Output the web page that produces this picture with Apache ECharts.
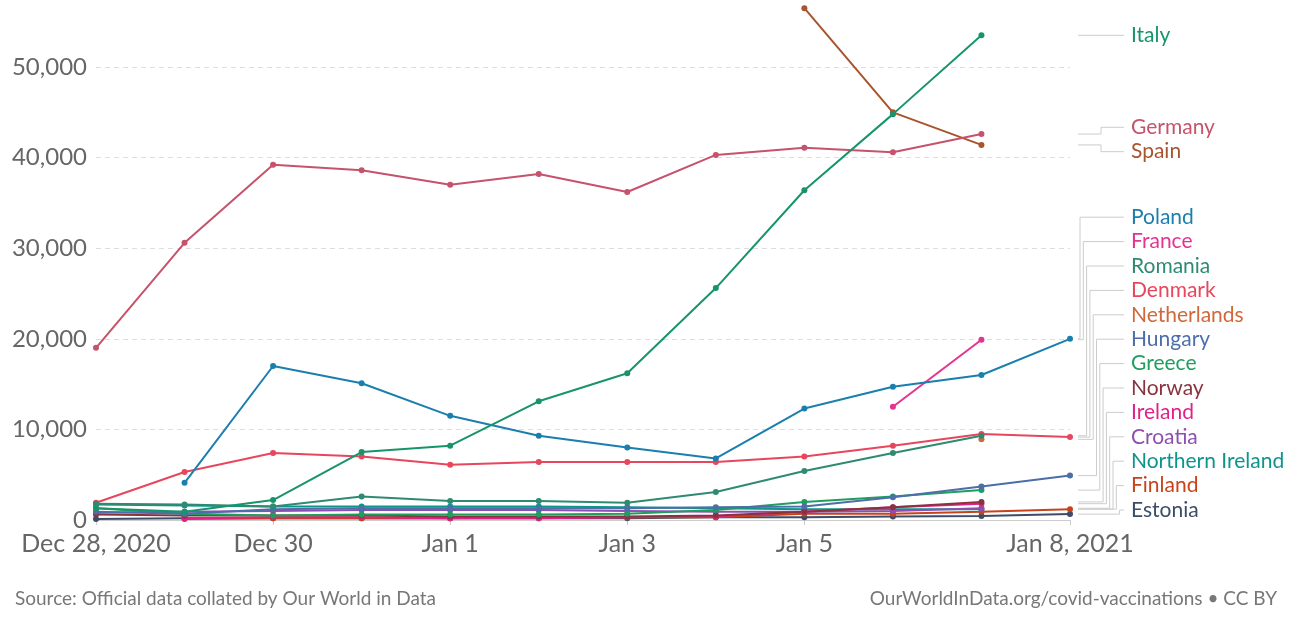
<!DOCTYPE html>
<html>
<head>
<meta charset="utf-8">
<script src="https://cdn.jsdelivr.net/npm/echarts@6/dist/echarts.min.js"></script>
<style>
html,body{margin:0;padding:0;background:#fff;}
#chart{width:1300px;height:620px;}
</style>
</head>
<body>
<div id="chart"></div>
<script>
// ---- data ----
const dates = ['2020-12-28','2020-12-29','2020-12-30','2020-12-31','2021-01-01','2021-01-02','2021-01-03','2021-01-04','2021-01-05','2021-01-06','2021-01-07','2021-01-08'];
const tickLabels = ['Dec 28, 2020','','Dec 30','','Jan 1','','Jan 3','','Jan 5','','','Jan 8, 2021'];
const yTicks = [0, 10000, 20000, 30000, 40000, 50000];

const italy       = [1300, 900, 2200, 7500, 8200, 13100, 16200, 25600, 36400, 44800, 53500, null];
const germany     = [19000, 30600, 39200, 38600, 37000, 38200, 36200, 40300, 41100, 40600, 42600, null];
const spain       = [null, null, null, null, null, null, null, null, 56500, 45000, 41400, null];
const poland      = [null, 4100, 17000, 15100, 11500, 9300, 8000, 6800, 12300, 14700, 16000, 20000];
const france      = [null, null, null, null, null, null, null, null, null, 12500, 19900, null];
const romania     = [1800, 1700, 1500, 2600, 2100, 2100, 1900, 3100, 5400, 7400, 9300, null];
const denmark     = [1900, 5300, 7400, 7000, 6100, 6400, 6400, 6400, 7000, 8200, 9500, 9150];
const netherlands = [null, null, null, null, null, null, null, null, null, null, 8900, null];
const hungary     = [900, 700, 1200, 1300, 1300, 1300, 1300, 1400, 1500, 2500, 3700, 4900];
const greece      = [1300, 700, 500, 600, 600, 600, 700, 1100, 2000, 2600, 3300, null];
const norway      = [600, 500, 500, 500, 400, 400, 400, 500, 900, 1400, 2000, null];
const ireland     = [null, 200, 300, 300, 200, 200, 300, 400, 900, 1400, 1800, null];
const croatia     = [800, 900, 1000, 1100, 1100, 1100, 1000, 900, 900, 1000, 1300, null];
const nireland    = [1700, 1600, 1500, 1500, 1500, 1500, 1400, 1300, 1200, 1200, 1200, null];
const finland     = [null, 100, 200, 200, 200, 300, 300, 300, 700, 700, 900, 1200];
const estonia     = [100, 200, 200, 200, 200, 200, 200, 300, 300, 400, 450, 650];

const countries = ['Italy','Germany','Spain','Poland','France','Romania','Denmark','Netherlands','Hungary','Greece','Norway','Ireland','Croatia','Northern Ireland','Finland','Estonia'];
const seriesValues = [italy, germany, spain, poland, france, romania, denmark, netherlands, hungary, greece, norway, ireland, croatia, nireland, finland, estonia];
const colors = ['#18946c','#c6526b','#a8552d','#1b7fae','#e3348f','#2f8a72','#e8465c','#d0683a','#4d6ea8','#1f9e5e','#8a3340','#e0218a','#8e4fb0','#0d958c','#c8431b','#3b4d68'];

// ---- chart ----
const FONT = 'Lato, "Noto Sans", sans-serif';
const chart = echarts.init(document.getElementById('chart'), null, {renderer: 'canvas'});

const drawOrder = [15,14,13,12,11,10,9,8,7,6,5,4,3,2,1,0];
const series = drawOrder.map(k => ({
  name: countries[k],
  type: 'line',
  data: seriesValues[k],
  connectNulls: false,
  symbol: 'circle',
  symbolSize: 6,
  showSymbol: true,
  color: colors[k],
  lineStyle: {width: 2, color: colors[k]},
  itemStyle: {color: colors[k]},
  emphasis: {disabled: true},
  animation: false,
  z: 2
}));

const option = {
  animation: false,
  backgroundColor: '#fff',
  grid: {left: 96, right: 230, top: 3.6, bottom: 100, containLabel: false},
  xAxis: {
    type: 'category',
    data: dates,
    boundaryGap: false,
    axisLine: {show: true, lineStyle: {color: '#cccccc', width: 1}},
    axisTick: {show: true, length: 5, lineStyle: {color: '#cccccc'}, interval: (i) => tickLabels[i] !== ''},
    axisLabel: {
      interval: (i) => tickLabels[i] !== '',
      formatter: (v, i) => tickLabels[i],
      color: '#666666', fontSize: 25, fontFamily: FONT, margin: 11
    },
    splitLine: {show: false}
  },
  yAxis: {
    type: 'value',
    min: 0, max: 57000, interval: 10000,
    axisLine: {show: false},
    axisTick: {show: false},
    axisLabel: {
      formatter: (v) => yTicks.indexOf(v) >= 0 ? v.toLocaleString('en-US') : '',
      showMaxLabel: false,
      color: '#666666', fontSize: 24, fontFamily: FONT, margin: 9
    },
    splitLine: {show: true, showMaxLine: false, showMinLine: true, lineStyle: {color: '#dddddd', type: [5, 4], width: 1}}
  },
  title: [
    {text: 'Source: Official data collated by Our World in Data', left: 10, top: 584,
     textStyle: {fontSize: 19, fontWeight: 'normal', color: '#777777', fontFamily: FONT}},
    {text: 'OurWorldInData.org/covid-vaccinations \u2022 CC BY', right: 18, top: 584,
     textStyle: {fontSize: 19, fontWeight: 'normal', color: '#777777', fontFamily: FONT}}
  ],
  series: series
};
chart.setOption(option);

// ---- right-side labels with connectors ----
function lastPoint(arr) {
  for (let i = arr.length - 1; i >= 0; i--) if (arr[i] != null) return [i, arr[i]];
  return null;
}
const items = countries.map((name, k) => {
  const lp = lastPoint(seriesValues[k]);
  const p = chart.convertToPixel({gridIndex: 0}, [dates[lp[0]], lp[1]]);
  return {name, color: colors[k], py: p[1], idx: k};
});
items.sort((a, b) => a.py - b.py || a.idx - b.idx);

const H = 24.4, minY = 20, maxY = 510;
let groups = items.map((it, k) => ({members: [k]}));
function placeGroup(g) {
  const n = g.members.length;
  let mean = 0;
  g.members.forEach(m => mean += items[m].py);
  mean /= n;
  let top = mean - (n - 1) * H / 2;
  top = Math.max(minY, Math.min(top, maxY - (n - 1) * H));
  g.top = top;
}
let changed = true;
while (changed) {
  changed = false;
  groups.forEach(placeGroup);
  for (let k = 0; k < groups.length - 1; k++) {
    const a = groups[k], b = groups[k + 1];
    if (b.top < a.top + a.members.length * H - 0.01) {
      a.members = a.members.concat(b.members);
      groups.splice(k + 1, 1);
      changed = true;
      break;
    }
  }
}
groups.forEach(placeGroup);

const xGridRight = chart.convertToPixel({gridIndex: 0}, [dates[dates.length - 1], 0])[0];
const lineStart = xGridRight + 8, lineEnd = xGridRight + 54, textX = xGridRight + 61;
const graphics = [];
groups.forEach(g => {
  const n = g.members.length;
  g.members.forEach((m, j) => {
    const it = items[m];
    const ly = g.top + j * H;
    const ex = n >= 4 ? xGridRight + 10 + j * 3.3 : xGridRight + 31;
    graphics.push({
      type: 'polyline', silent: true, z: 1,
      shape: {points: [[lineStart, it.py], [ex, it.py], [ex, ly], [lineEnd, ly]]},
      style: {stroke: '#cccccc', lineWidth: 1, fill: null}
    });
    graphics.push({
      type: 'text', silent: true, z: 3,
      x: textX, y: ly,
      style: {text: it.name, fill: it.color, fontSize: 21, fontFamily: FONT, textVerticalAlign: 'middle', verticalAlign: 'middle', align: 'left'}
    });
  });
});
chart.setOption({graphic: graphics});
</script>
</body>
</html>
